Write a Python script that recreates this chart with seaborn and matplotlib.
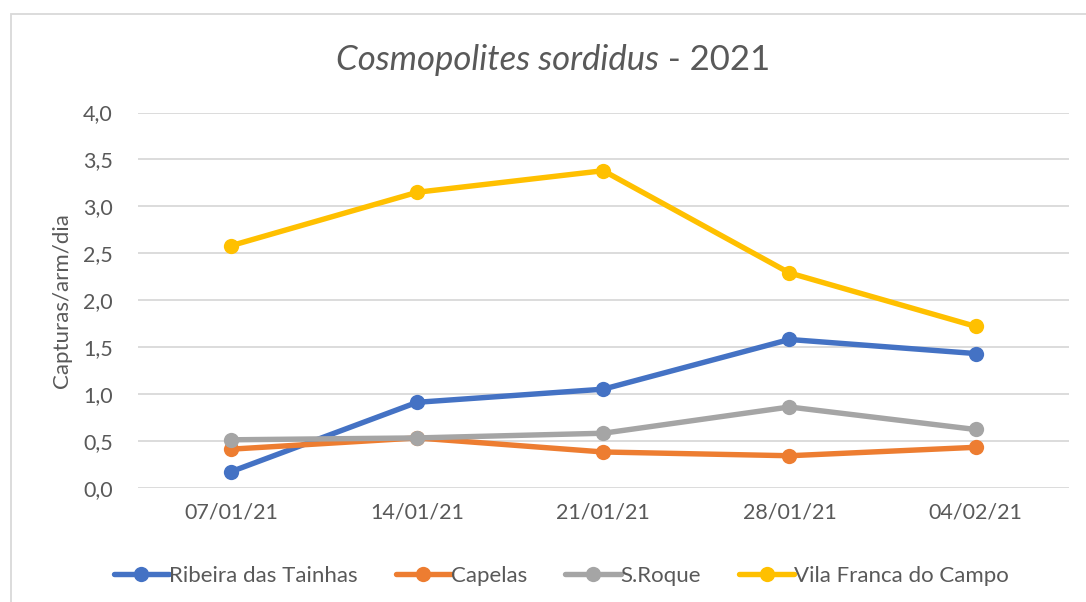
import pandas as pd
import matplotlib.pyplot as plt
import seaborn as sns
from matplotlib.patches import Rectangle
from matplotlib.ticker import FuncFormatter

# data
dates = ['07/01/21', '14/01/21', '21/01/21', '28/01/21', '04/02/21']
ribeira = [0.17, 0.91, 1.05, 1.58, 1.43]
capelas = [0.41, 0.53, 0.38, 0.34, 0.43]
sroque = [0.51, 0.53, 0.58, 0.86, 0.62]
vila_franca = [2.58, 3.15, 3.38, 2.29, 1.72]

series = {
    'Ribeira das Tainhas': ribeira,
    'Capelas': capelas,
    'S.Roque': sroque,
    'Vila Franca do Campo': vila_franca,
}
colors = ['#4472C4', '#ED7D31', '#A5A5A5', '#FFC000']

rows = []
for name, vals in series.items():
    for d, v in zip(dates, vals):
        rows.append({'Data': d, 'Valor': v, 'Local': name})
df = pd.DataFrame(rows)

sns.set_style('white')
plt.rcParams['font.family'] = ['Lato', 'DejaVu Sans']
text_color = '#595959'

fig = plt.figure(figsize=(10.86, 6.02), dpi=100)
ax = fig.add_axes([0.127, 0.19, 0.857, 0.623])

sns.lineplot(data=df, x='Data', y='Valor', hue='Local', hue_order=list(series.keys()),
             palette=colors, marker='o', markersize=11, markeredgewidth=0,
             linewidth=3.9, sort=False, ax=ax)

ax.set_xlim(-0.5, len(dates) - 0.5)
ax.set_ylim(0, 4.0)
ax.set_yticks([i * 0.5 for i in range(9)])
ax.yaxis.set_major_formatter(FuncFormatter(lambda v, p: f'{v:.1f}'.replace('.', ',')))
ax.grid(axis='y', color='#d9d9d9', linewidth=1.3)
ax.set_axisbelow(True)
for s in ax.spines.values():
    s.set_visible(False)
ax.tick_params(axis='both', length=0, labelsize=15.5, colors=text_color)
ax.tick_params(axis='x', pad=11)
ax.tick_params(axis='y', pad=18)
ax.set_xlabel('')
ax.set_ylabel('Capturas/arm/dia', fontsize=16, color=text_color, labelpad=8)

ax.legend(loc='upper center', bbox_to_anchor=(0.455, -0.155), ncol=4, frameon=False,
          fontsize=16, labelcolor=text_color, handlelength=2.5, handletextpad=0.0,
          columnspacing=1.7)

# title: italic species name + regular year
fig.text(0.607, 0.9, 'Cosmopolites sordidus', ha='right', va='center',
         fontsize=25, style='italic', color=text_color)
fig.text(0.607, 0.9, ' - 2021', ha='left', va='center', fontsize=25, color=text_color)

# chart border
fig.patches.append(Rectangle((11 / 1086, -0.05), 1.1, 1 - 14 / 602 + 0.05,
                             transform=fig.transFigure, fill=False,
                             edgecolor='#d9d9d9', linewidth=1.3))

fig.savefig('out.png', dpi=100)
